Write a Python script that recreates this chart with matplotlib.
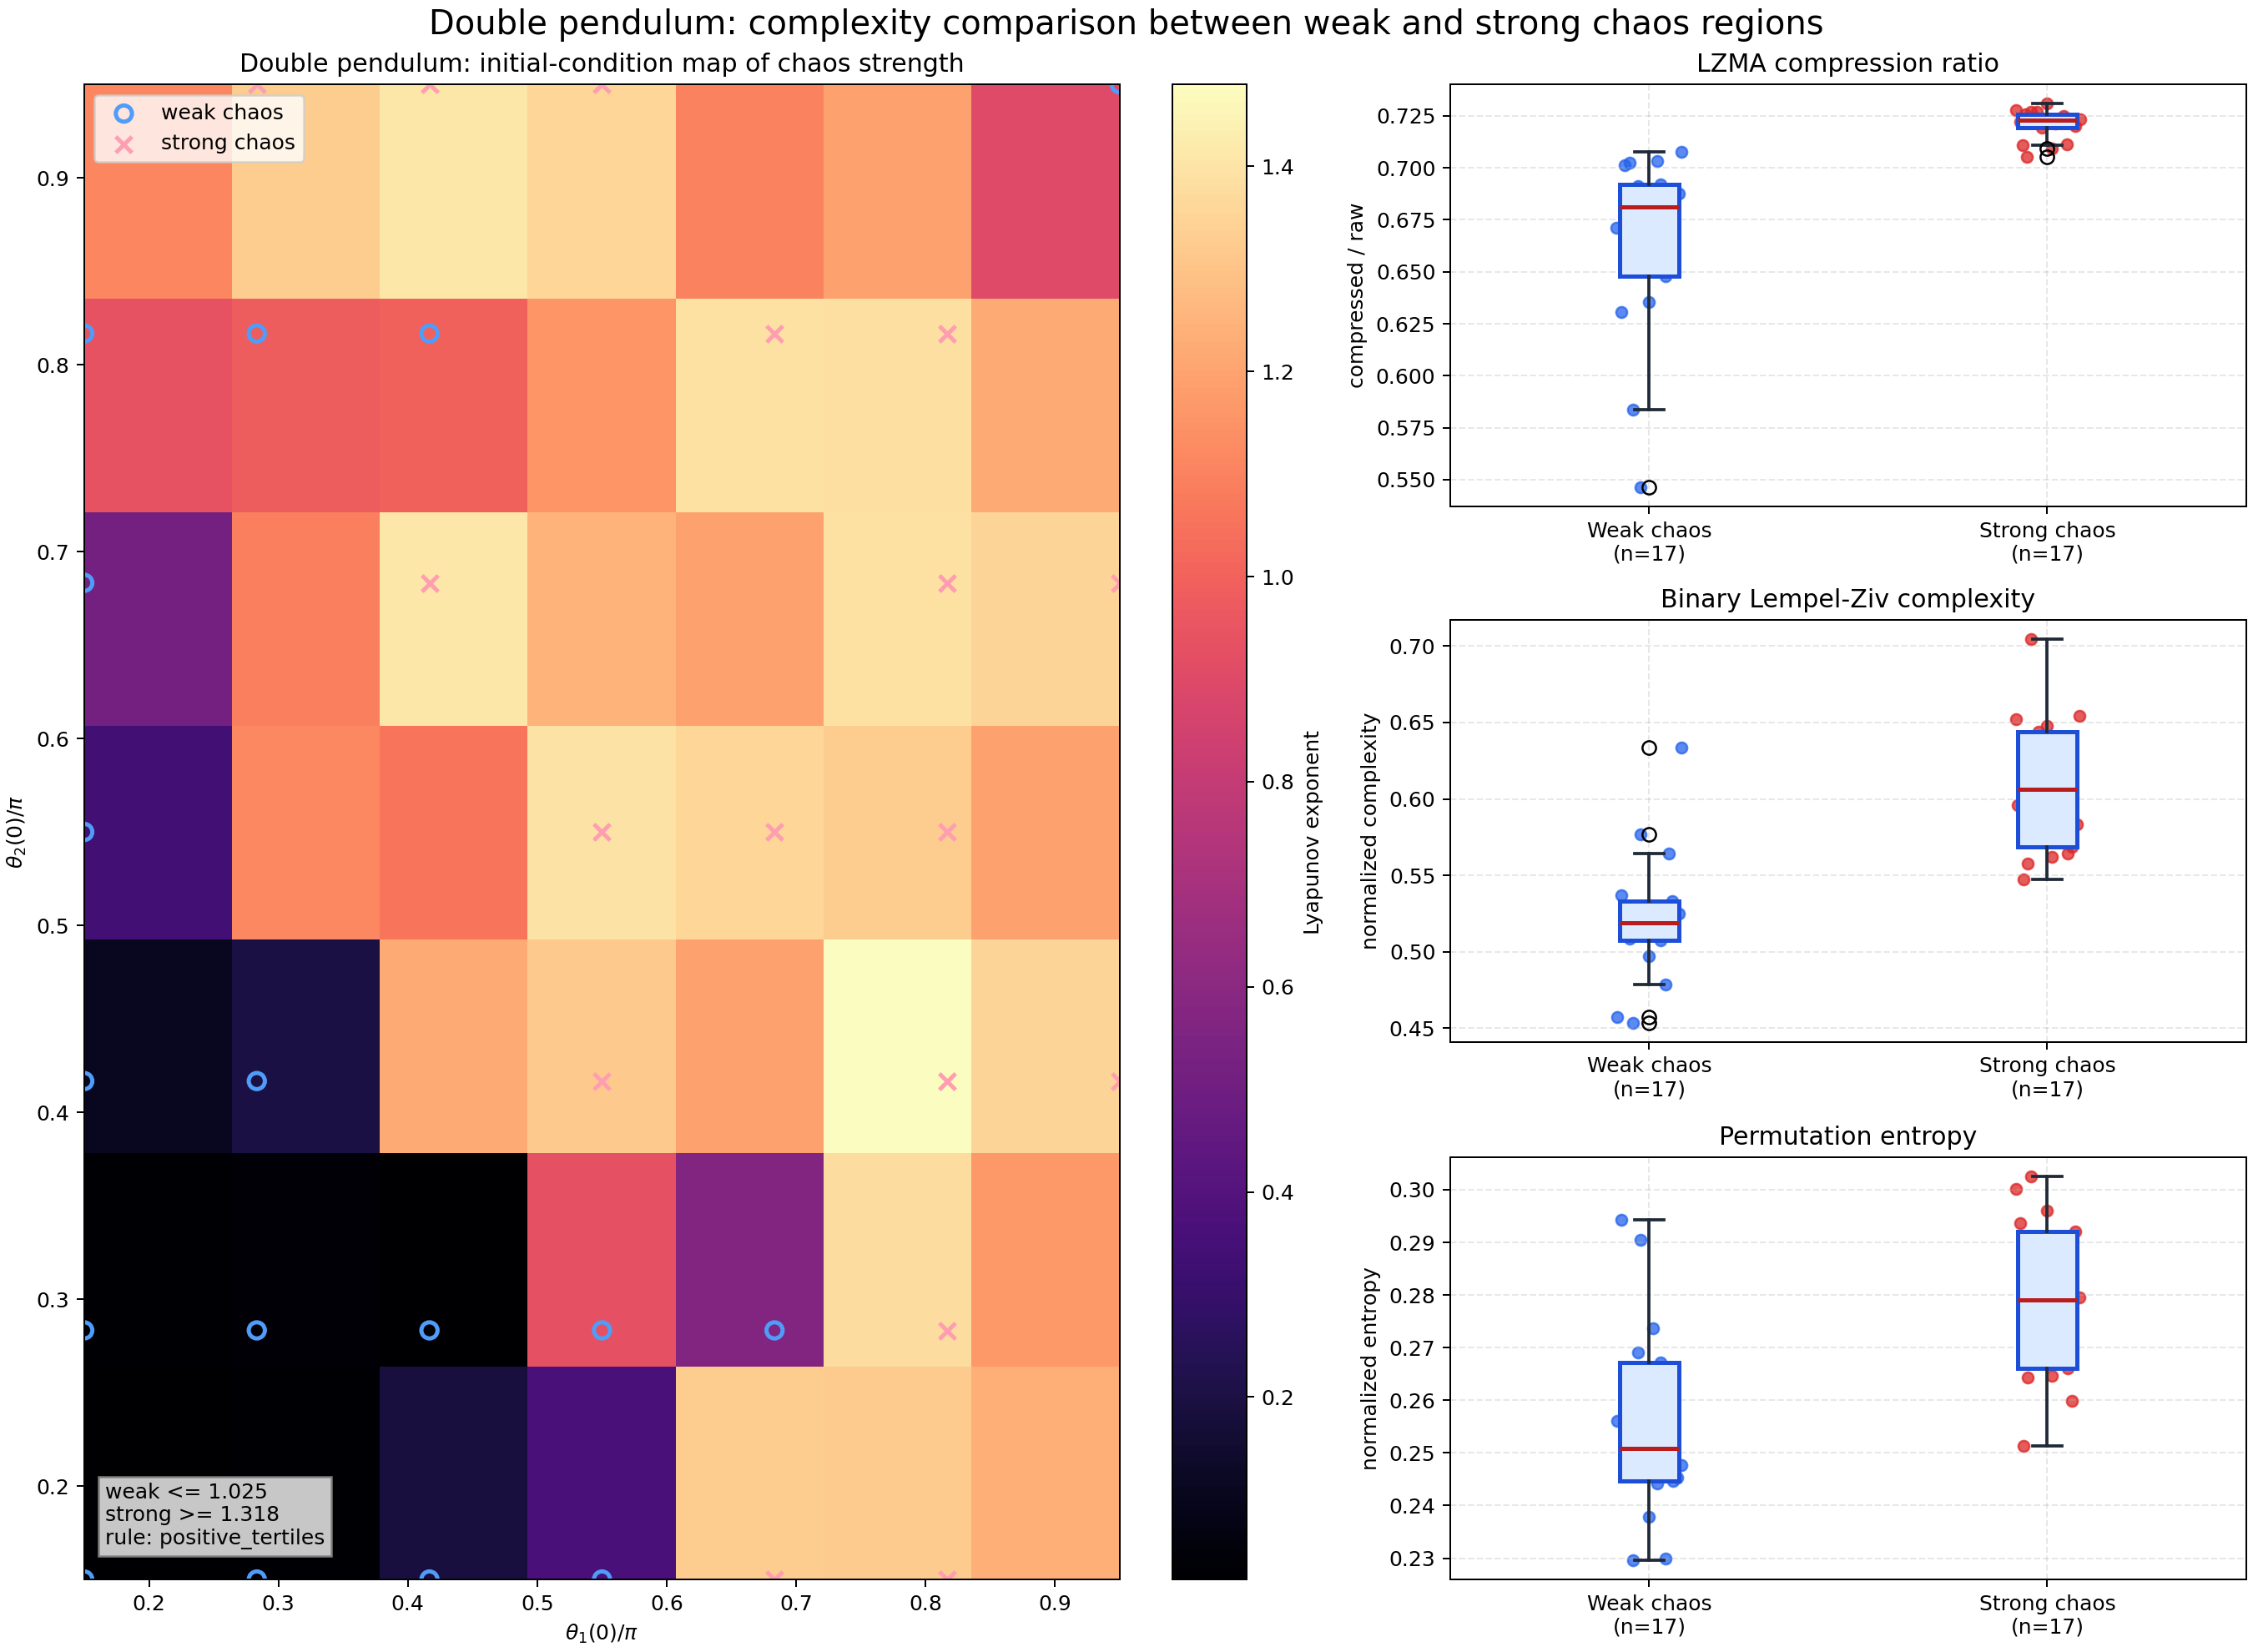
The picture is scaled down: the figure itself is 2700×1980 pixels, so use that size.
import numpy as np
import matplotlib
matplotlib.use("Agg")
import matplotlib.pyplot as plt

# initial-condition grid (theta/pi) and Lyapunov exponents, rows from bottom (theta2) to top
theta_grid = [0.15, 0.2833, 0.4167, 0.55, 0.6833, 0.8167, 0.95]
lyap = [
    [0.022, 0.030, 0.190, 0.360, 1.330, 1.325, 1.240],
    [0.030, 0.040, 0.025, 0.930, 0.570, 1.380, 1.170],
    [0.110, 0.200, 1.220, 1.320, 1.200, 1.480, 1.350],
    [0.340, 1.120, 1.060, 1.400, 1.360, 1.330, 1.200],
    [0.520, 1.090, 1.410, 1.250, 1.190, 1.390, 1.350],
    [0.940, 0.980, 1.000, 1.160, 1.390, 1.385, 1.220],
    [1.115, 1.330, 1.410, 1.360, 1.100, 1.190, 0.900],
]
weak_thr = 1.025
strong_thr = 1.318
rule = "positive_tertiles"

groups = ["Weak chaos", "Strong chaos"]

lzma_weak = [0.5463, 0.5836, 0.6308, 0.6355, 0.6478, 0.6620, 0.6710, 0.6770, 0.6813,
             0.6850, 0.6877, 0.6912, 0.6920, 0.7011, 0.7024, 0.7031, 0.7075]
lzma_strong = [0.7053, 0.7094, 0.7108, 0.7115, 0.7193, 0.7200, 0.7215, 0.7222, 0.7229,
               0.7233, 0.7240, 0.7250, 0.7257, 0.7268, 0.7270, 0.7279, 0.7309]
lz_weak = [0.4535, 0.4575, 0.4786, 0.4971, 0.5075, 0.5084, 0.5120, 0.5160, 0.5188,
           0.5220, 0.5248, 0.5300, 0.5330, 0.5370, 0.5643, 0.5768, 0.6336]
lz_strong = [0.5473, 0.5579, 0.5623, 0.5644, 0.5688, 0.5834, 0.5957, 0.6000, 0.6065,
             0.6150, 0.6250, 0.6350, 0.6440, 0.6480, 0.6521, 0.6543, 0.7045]
pe_weak = [0.2296, 0.2300, 0.2378, 0.2442, 0.2446, 0.2453, 0.2477, 0.2495, 0.2508,
           0.2561, 0.2600, 0.2640, 0.2672, 0.2691, 0.2737, 0.2905, 0.2943]
pe_strong = [0.2513, 0.2599, 0.2643, 0.2647, 0.2661, 0.2700, 0.2740, 0.2770, 0.2790,
             0.2796, 0.2840, 0.2880, 0.2920, 0.2937, 0.2961, 0.3001, 0.3025]

# horizontal jitter of the dots, same order as the values
jit_lzma_weak = [-0.022, -0.040, -0.071, 0.000, 0.041, -0.015, -0.082, 0.010, -0.035,
                 0.030, 0.075, -0.029, 0.029, -0.061, -0.050, 0.020, 0.080]
jit_lzma_strong = [-0.051, 0.012, -0.061, 0.050, -0.013, 0.071, 0.020, -0.068, 0.000,
                   0.082, -0.030, 0.040, -0.055, -0.027, -0.041, -0.079, 0.000]
jit_lz_weak = [-0.040, -0.080, 0.041, 0.000, 0.029, -0.050, 0.010, -0.020, 0.035,
               -0.005, 0.075, 0.015, 0.058, -0.071, 0.050, -0.022, 0.080]
jit_lz_strong = [-0.060, -0.050, 0.011, 0.051, 0.061, 0.075, -0.075, 0.020, -0.030,
                 0.040, -0.010, 0.030, -0.021, 0.000, -0.079, 0.080, -0.040]
jit_pe_weak = [-0.040, 0.041, 0.000, 0.020, 0.059, 0.070, 0.081, -0.020, 0.010,
               -0.080, 0.030, -0.045, 0.029, -0.029, 0.010, -0.021, -0.071]
jit_pe_strong = [-0.060, 0.061, -0.050, 0.011, 0.051, -0.030, 0.020, -0.010, 0.040,
                 0.081, -0.040, 0.005, 0.070, -0.068, 0.000, -0.079, -0.040]

panels = [
    ("LZMA compression ratio", "compressed / raw", lzma_weak, lzma_strong, jit_lzma_weak, jit_lzma_strong),
    ("Binary Lempel-Ziv complexity", "normalized complexity", lz_weak, lz_strong, jit_lz_weak, jit_lz_strong),
    ("Permutation entropy", "normalized entropy", pe_weak, pe_strong, jit_pe_weak, jit_pe_strong),
]

fig = plt.figure(figsize=(15, 11), dpi=180)

# --- heatmap ---
ax = fig.add_axes([0.0374, 0.0439, 0.4596, 0.905])
cax = fig.add_axes([0.5204, 0.0439, 0.033, 0.905])
L = np.array(lyap)
im = ax.imshow(L, origin="lower", cmap="magma", aspect="auto",
               extent=[theta_grid[0], theta_grid[-1], theta_grid[0], theta_grid[-1]])
cb = fig.colorbar(im, cax=cax)
cb.set_label("Lyapunov exponent")

T1, T2 = np.meshgrid(theta_grid, theta_grid)
weak = L <= weak_thr
strong = L >= strong_thr
ax.scatter(T1[weak], T2[weak], s=60, facecolors="none", edgecolors="#4f9cf9",
           linewidths=2, label="weak chaos")
ax.scatter(T1[strong], T2[strong], s=60, marker="x", color="#ff9eb0",
           linewidths=2, label="strong chaos")
ax.set_xlim(theta_grid[0], theta_grid[-1])
ax.set_ylim(theta_grid[0], theta_grid[-1])
ax.set_xlabel(r"$\theta_1(0)/\pi$")
ax.set_ylabel(r"$\theta_2(0)/\pi$")
ax.set_title("Double pendulum: initial-condition map of chaos strength")
ax.legend(loc="upper left")
ax.text(0.02, 0.02, f"weak <= {weak_thr:.3f}\nstrong >= {strong_thr:.3f}\nrule: {rule}",
        transform=ax.transAxes, va="bottom", ha="left",
        bbox=dict(boxstyle="square", facecolor="lightgray", edgecolor="gray", alpha=0.95))

# --- box panels ---
bottoms = [0.6934, 0.3692, 0.0439]
for (title, ylabel, w, s, jw, js), y0 in zip(panels, bottoms):
    bx = fig.add_axes([0.6437, y0, 0.3533, 0.2555])
    bx.scatter(1 + np.array(jw), w, s=28, color="#2563eb", alpha=0.75, zorder=1)
    bx.scatter(2 + np.array(js), s, s=28, color="#dc2626", alpha=0.75, zorder=1)
    n = [len(w), len(s)]
    bx.boxplot([w, s], positions=[1, 2], widths=0.15, patch_artist=True,
               tick_labels=[f"{g}\n(n={k})" for g, k in zip(groups, n)],
               boxprops=dict(facecolor="#dbeafe", edgecolor="#1d4ed8", linewidth=2),
               medianprops=dict(color="#b91c1c", linewidth=2),
               whiskerprops=dict(color="#1f2937", linewidth=1.5),
               capprops=dict(color="#1f2937", linewidth=1.5),
               flierprops=dict(marker="o", markerfacecolor="none", markeredgecolor="black",
                               markersize=6.5))
    bx.set_title(title)
    bx.set_ylabel(ylabel)
    bx.grid(alpha=0.3, linestyle="--")

fig.suptitle("Double pendulum: complexity comparison between weak and strong chaos regions",
             fontsize=16, y=0.995)
fig.savefig("out.png", dpi=180)
